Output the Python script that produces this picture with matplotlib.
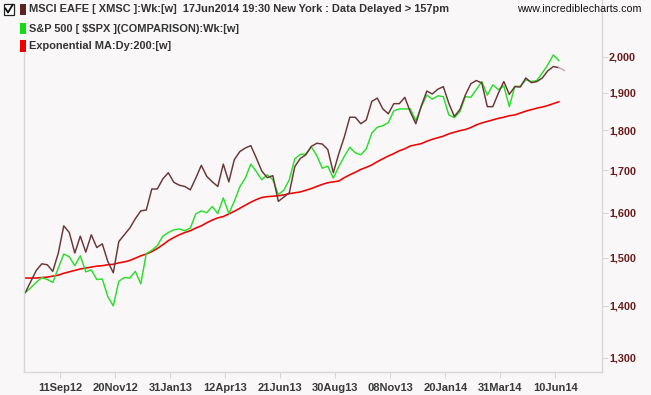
import matplotlib
matplotlib.use("Agg")
import matplotlib.pyplot as plt
from matplotlib.ticker import FixedLocator, FixedFormatter, NullLocator
from matplotlib.patches import Rectangle
from matplotlib.lines import Line2D

# ---------------- data (weekly bars) ----------------
msci_eafe = [1427, 1450, 1473, 1487, 1485, 1471, 1510, 1570, 1555, 1510,
             1547, 1512, 1550, 1522, 1530, 1492, 1468, 1535, 1550, 1565,
             1586, 1604, 1606, 1655, 1655, 1679, 1694, 1671, 1664, 1661,
             1653, 1681, 1712, 1685, 1672, 1661, 1715, 1672, 1726, 1746,
             1755, 1761, 1730, 1698, 1682, 1687, 1626, 1636, 1646, 1709,
             1729, 1738, 1759, 1767, 1765, 1751, 1694, 1741, 1783, 1834,
             1834, 1817, 1827, 1876, 1885, 1856, 1843, 1870, 1870, 1887,
             1848, 1817, 1864, 1904, 1896, 1909, 1916, 1871, 1836, 1854,
             1893, 1924, 1933, 1926, 1862, 1862, 1898, 1930, 1895, 1916,
             1915, 1940, 1927, 1930, 1940, 1960, 1972, 1969, 1961]

sp500_cmp = [1427, 1437, 1448, 1458, 1454, 1448, 1478, 1508, 1502, 1483,
             1504, 1470, 1474, 1454, 1455, 1419, 1400, 1450, 1458, 1457,
             1471, 1445, 1509, 1516, 1526, 1547, 1555, 1561, 1563, 1559,
             1565, 1597, 1604, 1600, 1614, 1598, 1634, 1598, 1626, 1660,
             1681, 1715, 1697, 1677, 1689, 1677, 1642, 1652, 1677, 1728,
             1739, 1740, 1758, 1736, 1705, 1710, 1681, 1709, 1734, 1757,
             1743, 1738, 1753, 1793, 1808, 1812, 1820, 1851, 1856, 1856,
             1856, 1825, 1862, 1893, 1882, 1891, 1889, 1840, 1833, 1848,
             1889, 1887, 1908, 1930, 1893, 1921, 1908, 1918, 1862, 1917,
             1917, 1935, 1930, 1933, 1954, 1977, 2005, 1989]

ema200 = [1457, 1457, 1457, 1458, 1459, 1461, 1463, 1467, 1470, 1473,
          1476, 1478, 1480, 1482, 1483, 1485, 1486, 1489, 1491, 1494,
          1499, 1504, 1508, 1513, 1520, 1528, 1537, 1544, 1550, 1555,
          1559, 1565, 1570, 1577, 1583, 1588, 1591, 1597, 1603, 1610,
          1617, 1624, 1630, 1635, 1637, 1638, 1639, 1641, 1644, 1646,
          1648, 1652, 1656, 1661, 1666, 1670, 1672, 1674, 1682, 1689,
          1695, 1702, 1707, 1713, 1721, 1728, 1735, 1741, 1748, 1753,
          1760, 1763, 1766, 1772, 1777, 1781, 1785, 1791, 1795, 1799,
          1802, 1807, 1814, 1819, 1823, 1827, 1831, 1834, 1838, 1840,
          1845, 1850, 1854, 1858, 1861, 1865, 1870, 1875]

x_tick_labels = ["11Sep12", "20Nov12", "31Jan13", "12Apr13", "21Jun13",
                 "30Aug13", "08Nov13", "20Jan14", "31Mar14", "10Jun14"]
y_ticks = [1300, 1400, 1500, 1600, 1700, 1800, 1900, 2000]
y_tick_labels = ["1,300", "1,400", "1,500", "1,600", "1,700", "1,800", "1,900", "2,000"]

legend_items = ["MSCI EAFE [ XMSC ]:Wk:[w]  17Jun2014 19:30 New York : Data Delayed > 157pm",
                "S&P 500 [ $SPX ](COMPARISON):Wk:[w]",
                "Exponential MA:Dy:200:[w]"]
site = "www.incrediblecharts.com"

# ---------------- style ----------------
W, H = 651, 395
BG = "#f9f7f8"
BROWN = "#6a3535"
BROWN_FAINT = "#c9a9a9"
GREEN = "#2ade2a"
RED = "#f00000"
AXIS = "#d8d6d7"
FONT = "Liberation Sans"

fig = plt.figure(figsize=(W / 100, H / 100), dpi=100, facecolor=BG)

def fx(px):
    return px / W

def fy(py):
    return 1 - py / H

ax_l, ax_r, ax_t, ax_b = 24.3, 602.0, 0.0, 372.0
ax = fig.add_axes([fx(ax_l), fy(ax_b), fx(ax_r - ax_l), (ax_b - ax_t) / H])
ax.set_facecolor(BG)

xb = list(range(len(msci_eafe)))
xg = list(range(len(sp500_cmp)))
xe = list(range(len(ema200)))

ax.plot(xe, ema200, color=RED, lw=1.15)
ax.plot(xg, sp500_cmp, color=GREEN, lw=1.05)
ax.plot(xb[:-1], msci_eafe[:-1], color=BROWN, lw=1.05)
ax.plot(xb[-2:], msci_eafe[-2:], color=BROWN_FAINT, lw=1.05)

ax.set_yscale("log")
ax.set_ylim(1273.7, 2169)
ax.set_xlim(-0.18, 104.85)

# ticks
tick_pos = [6.36 + 10 * k for k in range(len(x_tick_labels))]
ax.xaxis.set_major_locator(FixedLocator(tick_pos))
ax.xaxis.set_major_formatter(FixedFormatter(x_tick_labels))
ax.xaxis.set_minor_locator(NullLocator())
ax.yaxis.set_major_locator(FixedLocator(y_ticks))
ax.yaxis.set_major_formatter(FixedFormatter(y_tick_labels))
ax.yaxis.set_minor_locator(NullLocator())
ax.yaxis.tick_right()
ax.tick_params(axis="x", direction="out", length=4, width=0.8, color=AXIS,
               pad=4, labelsize=8, labelcolor="#3a3a3a")
ax.tick_params(axis="y", direction="out", length=4, width=0.8, color=AXIS,
               pad=1.0, labelsize=7.8, labelcolor="#6b1c1c")
for lab in ax.get_xticklabels() + ax.get_yticklabels():
    lab.set_fontfamily(FONT)
    lab.set_fontweight("bold")

ax.spines["top"].set_visible(False)
for s in ["left", "right", "bottom"]:
    ax.spines[s].set_color(AXIS)
    ax.spines[s].set_linewidth(1.0)
ax.spines["left"].set_bounds(1273.7, 2013)

# ---------------- legend / header ----------------
fig.add_artist(Rectangle((fx(3.5), fy(14.5)), fx(10), 10.5 / H, transform=fig.transFigure,
                         facecolor="white", edgecolor="#222222", lw=0.9))
fig.add_artist(Line2D([fx(5.5), fx(8), fx(12.5)], [fy(8.5), fy(12.5), fy(5)],
                      transform=fig.transFigure, color="#111111", lw=1.3))

sq_colors = ["#5c2222", "#11dd11", "#ee0000"]
rows_y = [9.5, 28.5, 46]
for col, yy, txt in zip(sq_colors, rows_y, legend_items):
    fig.add_artist(Rectangle((fx(20), fy(yy + 5.5)), fx(5.5), 11 / H,
                             transform=fig.transFigure, facecolor=col, edgecolor="none"))
    fig.text(fx(29), fy(yy), txt, ha="left", va="center", fontsize=7.9,
             fontfamily=FONT, fontweight="bold", color="#333333")

fig.text(fx(641), fy(9.5), site, ha="right", va="center", fontsize=7.7,
         fontfamily=FONT, color="#111111")

fig.savefig("out.png", dpi=100, facecolor=BG)
